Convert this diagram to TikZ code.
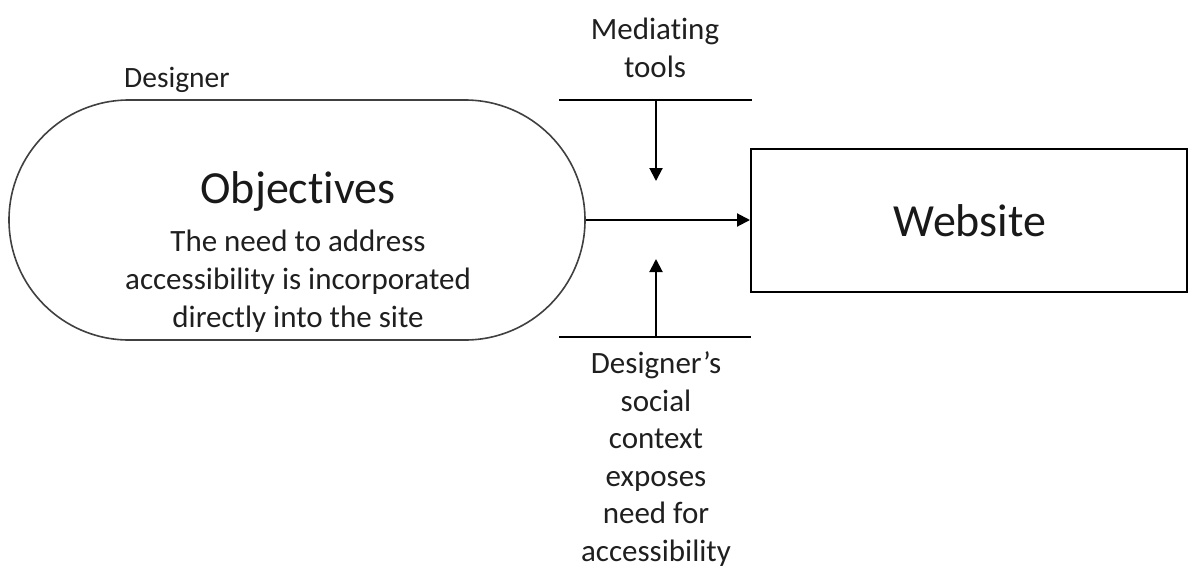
\documentclass[tikz,border=0pt]{standalone}
\usepackage{fontspec}
\setmainfont[Ligatures=NoCommon]{Carlito}
\usetikzlibrary{arrows.meta,shapes.misc}
\begin{document}
\begin{tikzpicture}[x=1pt,y=-1pt,
  body/.style={font=\fontsize{31}{38}\selectfont, align=center, inner sep=0pt, text=black!88},
  label/.style={font=\fontsize{29.5}{36}\selectfont, inner sep=0pt, text=black!88},
  title/.style={font=\fontsize{46}{55}\selectfont, inner sep=0pt, text=black!90},
  bar/.style={line width=2pt},
  flow/.style={line width=2pt, -{Triangle[length=13pt,width=13pt]}}
]
\useasboundingbox (0,0) rectangle (1188,571);

% designer's objectives
\node[draw=black!75, line width=1.6pt, rounded rectangle,
      minimum width=576, minimum height=240, inner sep=0pt] (obj) at (297,220) {};
\node[title] (objt) at (298,191) {Objectives};
\node[body] (objb) at (298,281) {The need to address\\accessibility is incorporated\\directly into the site};
\node[label, anchor=west] (des) at (124,80) {Designer};

% the website
\node[draw, line width=2pt, minimum width=436, minimum height=143, inner sep=0pt] (web) at (969,220) {};
\node[title] (webt) at (970,221) {Website};

% mediating tools bar
\coordinate (tl) at (559,100);
\coordinate (tr) at (752,100);
\coordinate (tm) at (656,100);
\coordinate (tt) at (656,181);
\draw[bar] (tl) -- (tr);
\draw[flow] (tm) -- (tt);
\node[body] (med) at (655,48) {Mediating\\tools};

% social context bar
\coordinate (bl) at (559,337);
\coordinate (br) at (751,337);
\coordinate (bm) at (656,337);
\coordinate (bt) at (656,259);
\draw[bar] (bl) -- (br);
\draw[flow] (bm) -- (bt);
\node[body, font=\fontsize{31}{37.5}\selectfont] (soc) at (656,459) {Designer’s\\social\\context\\exposes\\need for\\accessibility};

% objectives feed the website
\draw[flow] (obj.east) -- (web.west);
\end{tikzpicture}
\end{document}
